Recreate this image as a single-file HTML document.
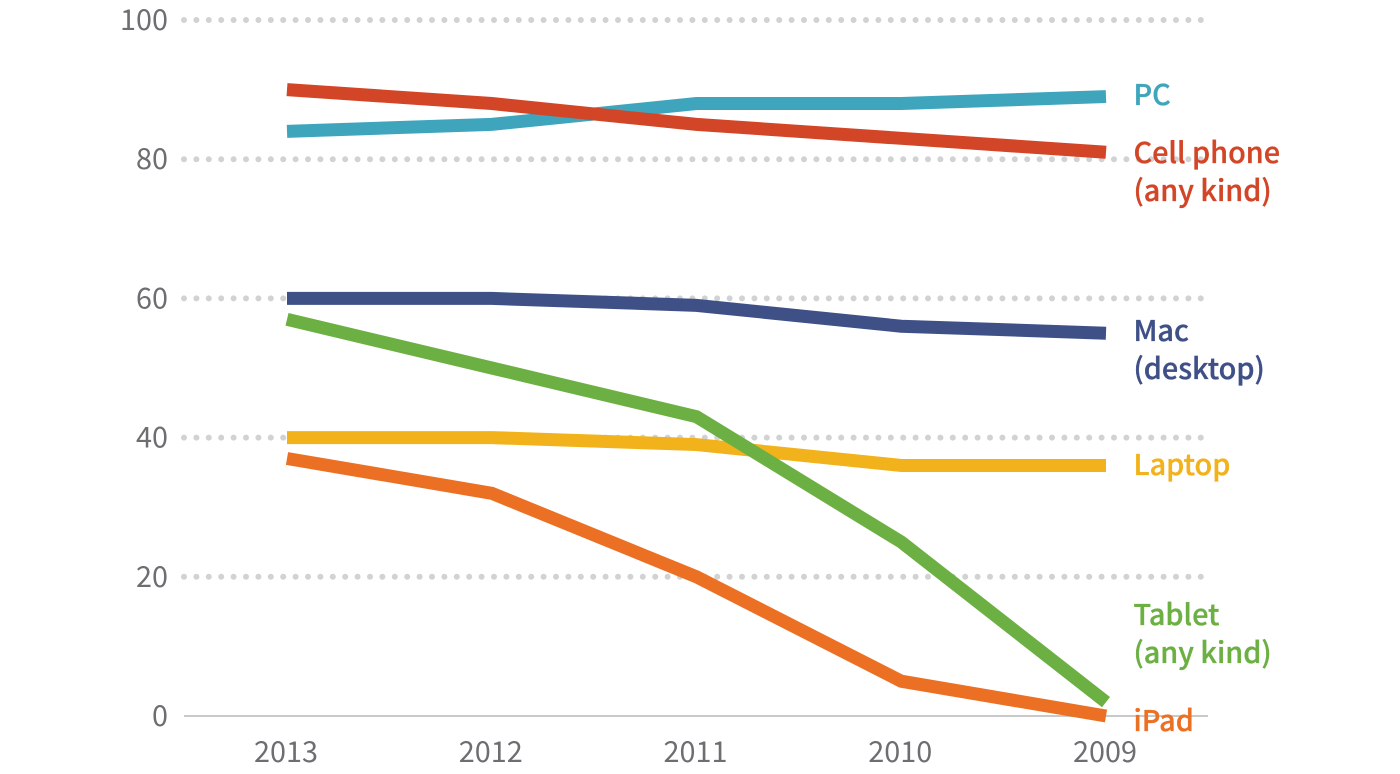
<!DOCTYPE html>
<html lang="en">
<head>
<meta charset="utf-8">
<title>Device ownership chart</title>
<style>
html,body{margin:0;padding:0;background:#fff;width:1400px;height:774px;overflow:hidden}
svg{display:block}
text{font-family:"Noto Sans CJK JP","Liberation Sans",sans-serif}
.tick{font-size:28.8px;fill:#6d6e71;font-weight:400}
.lab{font-size:28.8px;font-weight:500;stroke-width:.35px}
</style>
</head>
<body>
<svg id="chart" width="1400" height="774" viewBox="0 0 1400 774" xmlns="http://www.w3.org/2000/svg"></svg>
<script>
const years = ['2013', '2012', '2011', '2010', '2009'];
const yTicks = [0, 20, 40, 60, 80, 100];
const pc = [84, 85, 88, 88, 89];
const cellPhone = [90, 88, 85, 83, 81];
const mac = [60, 60, 59, 56, 55];
const laptop = [40, 40, 39, 36, 36];
const tablet = [57, 50, 43, 25, 2];
const ipad = [37, 32, 20, 5, 0];

const NS = 'http://www.w3.org/2000/svg';
const svg = document.getElementById('chart');
const xScale = function (i) { return 287 + i * 204.75; };
const yScale = function (v) { return 716 - v * 6.96; };

function make(tag, attrs, parent) {
  const el = document.createElementNS(NS, tag);
  Object.keys(attrs).forEach(function (k) { el.setAttribute(k, attrs[k]); });
  parent.appendChild(el);
  return el;
}

const gridGroup = make('g', {}, svg);


const yAxisGroup = make('g', {}, svg);


yTicks.forEach(function (t) {
  const y = yScale(t);
  if (t > 0) {
    const g = make('line', {x1: 184, x2: 1206, y1: y, y2: y, stroke: '#d1d2d4', 'stroke-width': 6, 'stroke-linecap': 'round', 'stroke-dasharray': '0 12.4'}, gridGroup);
    
    
  }
  const lab = make('text', {x: 168, y: y + 10, 'text-anchor': 'end', class: 'tick'}, yAxisGroup);
  lab.textContent = String(t);
  
  
});

const baseline = make('line', {x1: 184, x2: 1208, y1: yScale(0), y2: yScale(0), stroke: '#c8c9cb', 'stroke-width': 2}, svg);



const xAxisGroup = make('g', {}, svg);


years.forEach(function (yr, i) {
  const lab = make('text', {x: xScale(i) - 1, y: 762, 'text-anchor': 'middle', class: 'tick'}, xAxisGroup);
  lab.textContent = yr;
  
  
});

function drawSeries(values, color, name) {
  const pts = values.map(function (v, i) { return xScale(i) + ',' + yScale(v); }).join(' ');
  const line = make('polyline', {points: pts, fill: 'none', stroke: color, 'stroke-width': 13, 'stroke-linejoin': 'miter', 'stroke-linecap': 'butt'}, svg);
  
  
}
drawSeries(pc, '#3fa5bd', 'series-pc');
drawSeries(cellPhone, '#d24627', 'series-cell-phone');
drawSeries(mac, '#3f5087', 'series-mac');
drawSeries(laptop, '#f2b21c', 'series-laptop');
drawSeries(tablet, '#6cb043', 'series-tablet');
drawSeries(ipad, '#ec7024', 'series-ipad');
</script>
<svg width="1400" height="774" viewBox="0 0 1400 774" xmlns="http://www.w3.org/2000/svg" style="position:absolute;left:0;top:0">
  <text class="lab" x="1133.5" y="105" fill="#3fa5bd" stroke="#3fa5bd">PC</text>
  <text class="lab" x="1133.5" y="163" fill="#d24627" stroke="#d24627">Cell phone</text>
  <text class="lab" x="1133.5" y="201" fill="#d24627" stroke="#d24627">(any kind)</text>
  <text class="lab" x="1133.5" y="341" fill="#3f5087" stroke="#3f5087">Mac</text>
  <text class="lab" x="1133.5" y="379" fill="#3f5087" stroke="#3f5087">(desktop)</text>
  <text class="lab" x="1133.5" y="475" fill="#f2b21c" stroke="#f2b21c">Laptop</text>
  <text class="lab" x="1133.5" y="625" fill="#6cb043" stroke="#6cb043">Tablet</text>
  <text class="lab" x="1133.5" y="663" fill="#6cb043" stroke="#6cb043">(any kind)</text>
  <text class="lab" x="1133.5" y="731" fill="#ec7024" stroke="#ec7024">iPad</text>
</svg>
</body>
</html>
